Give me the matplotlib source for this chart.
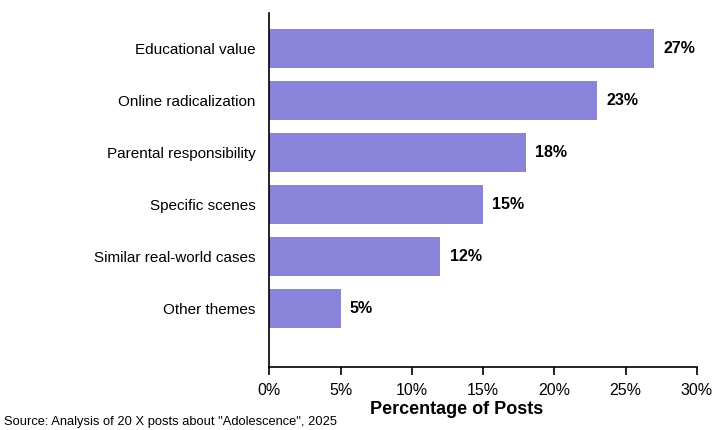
import matplotlib

matplotlib.use("Agg")
import matplotlib.pyplot as plt

plt.rcParams["font.family"] = ["Liberation Sans", "DejaVu Sans"]

themes = ["Educational value", "Online radicalization", "Parental responsibility",
          "Specific scenes", "Similar real-world cases", "Other themes"]
shares = [27, 23, 18, 15, 12, 5]
xticks = [0, 5, 10, 15, 20, 25, 30]

fig = plt.figure(figsize=(7.15, 4.3), dpi=100)
ax = fig.add_axes([0.3766, 0.1472, 0.598, 0.8233])

ys = list(range(len(themes)))
ax.barh(ys, shares, height=0.75, color="#8984d9")
for y, v in zip(ys, shares):
    ax.text(v + 0.65, y, f"{v}%", va="center", ha="left", fontsize=11.5, fontweight="bold")

ax.set_yticks(ys)
ax.set_yticklabels(themes, fontsize=11)
ax.set_ylim(len(themes) - 1 + 1.12, -0.695)
ax.set_xlim(0, 30)
ax.set_xticks(xticks)
ax.set_xticklabels([f"{t}%" for t in xticks], fontsize=11.5)
ax.tick_params(axis="y", length=0, pad=10)
ax.tick_params(axis="x", length=6, width=1.2, pad=6)
for s in ("left", "bottom"):
    ax.spines[s].set_linewidth(1.2)
ax.spines["top"].set_visible(False)
ax.spines["right"].set_visible(False)
ax.set_xlabel("Percentage of Posts", fontsize=13, fontweight="bold")
ax.xaxis.set_label_coords(0.4377, -0.096)

fig.text(0.005, 0.0124, 'Source: Analysis of 20 X posts about "Adolescence", 2025', fontsize=9.3)

fig.savefig("out.png", dpi=100)
